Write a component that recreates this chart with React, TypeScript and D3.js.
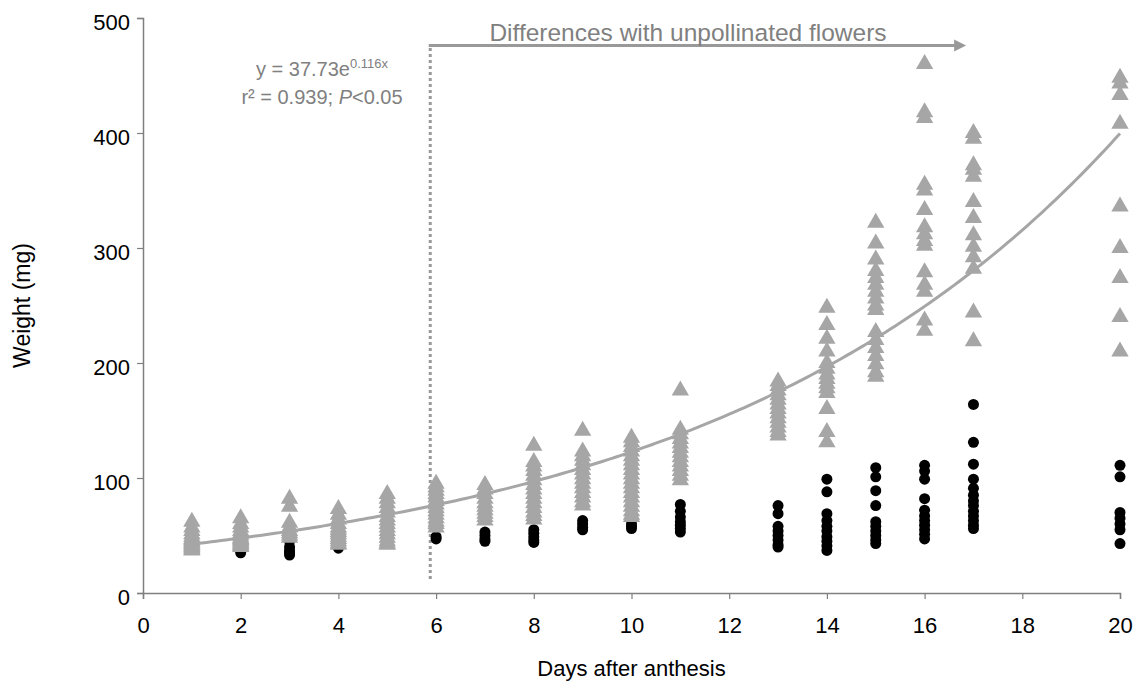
import React, { useEffect, useRef } from 'react';
import * as d3 from 'd3';

// days after anthesis that were sampled
const days = [1, 2, 3, 4, 5, 6, 7, 8, 9, 10, 11, 13, 14, 15, 16, 17, 20];

// pollinated flowers (grey triangles), mg
const pollinatedWeights = [
  [62, 57, 54, 51, 49, 47, 46, 45, 44, 43, 42, 41, 40, 39, 38, 37],
  [65, 60, 57, 54, 52, 50, 48, 47, 46, 45, 44, 43, 42, 41, 40],
  [82, 75, 61, 57, 54, 52, 50, 48],
  [73, 68, 64, 60, 57, 55, 53, 51, 49, 47, 45, 43, 42],
  [86, 82, 78, 74, 70, 66, 63, 60, 57, 54, 51, 48, 45, 43, 42],
  [95, 92, 89, 86, 83, 80, 77, 74, 71, 68, 65, 62, 60, 57],
  [94, 90, 86, 82, 78, 75, 72, 69, 66, 63],
  [128, 114, 110, 106, 102, 98, 94, 90, 86, 82, 78, 74, 70, 67, 64],
  [141, 123, 119, 115, 111, 107, 103, 99, 95, 91, 87, 83, 79, 76],
  [135, 131, 127, 123, 119, 115, 111, 107, 103, 99, 95, 91, 87, 83, 79, 75, 71, 68, 66],
  [176, 142, 138, 134, 130, 126, 122, 118, 114, 110, 106, 102, 98],
  [184, 180, 176, 172, 168, 164, 160, 156, 152, 148, 144, 140, 137],
  [248, 233, 221, 210, 200, 195, 190, 186, 182, 178, 174, 160, 140, 131],
  [322, 304, 290, 280, 274, 268, 262, 256, 250, 246, 227, 220, 213, 206, 199, 192, 188],
  [460, 418, 413, 355, 350, 333, 318, 312, 306, 302, 279, 268, 262, 237, 228],
  [400, 395, 372, 368, 362, 340, 326, 311, 301, 292, 282, 244, 219],
  [448, 443, 433, 408, 336, 300, 274, 240, 210],
];

// unpollinated flowers (black circles), mg
const unpollinatedWeights = [
  [42, 40, 39, 38],
  [44, 40, 37, 35],
  [45, 40, 37, 35, 33],
  [44, 41, 39],
  [48, 46, 45],
  [49, 47],
  [53, 50, 47, 45],
  [55, 52, 49, 46, 44],
  [63, 60, 57, 55],
  [60, 58, 56],
  [77, 71, 66, 62, 59, 56, 53],
  [76, 69, 58, 54, 50, 46, 42, 40],
  [99, 88, 69, 63, 58, 54, 49, 45, 41, 37],
  [109, 101, 89, 76, 62, 58, 54, 50, 46, 43],
  [111, 106, 99, 82, 72, 67, 63, 59, 55, 51, 47],
  [164, 131, 112, 99, 91, 85, 80, 76, 71, 67, 63, 59, 56],
  [111, 101, 70, 65, 60, 55, 43],
];

const xTicks = [0, 2, 4, 6, 8, 10, 12, 14, 16, 18, 20];
const yTicks = [0, 100, 200, 300, 400, 500];

// exponential trend line y = a * e^(b x)
const fitA = 37.73;
const fitB = 0.118;

const FONT = "'Liberation Sans', Arial, sans-serif";
const GREY = '#a6a6a6';

export default function App() {
  const ref = useRef<SVGSVGElement>(null);

  useEffect(() => {
    const svg = d3.select(ref.current);
    svg.selectAll('*').remove();

    const x = d3.scaleLinear().domain([0, 20]).range([143, 1120]);
    const y = d3.scaleLinear().domain([0, 500]).range([593, 18]);

    // axes
    const yAxis = svg.append('g')
      .attr('transform', `translate(${x(0)},0)`)
      .call(d3.axisLeft(y).tickValues(yTicks).tickSize(6).tickPadding(7));
    const xAxis = svg.append('g')
      .attr('transform', `translate(0,${y(0)})`)
      .call(d3.axisBottom(x).tickValues(xTicks).tickSize(6).tickPadding(18));
    [yAxis, xAxis].forEach(a => {
      a.select('.domain').attr('stroke', '#7f7f7f').attr('stroke-width', 1.5);
      a.selectAll('.tick line').attr('stroke', '#7f7f7f').attr('stroke-width', 1.2);
      a.selectAll('.tick text')
        .style('font-family', FONT)
        .style('font-size', '22px')
        .attr('fill', '#000');
    });
    yAxis.selectAll('.tick text').attr('dy', '0.5em');

    // axis titles
    svg.append('text')
      .attr('x', (x(0) + x(20)) / 2)
      .attr('y', 676)
      .attr('text-anchor', 'middle')
      .style('font-family', FONT)
      .style('font-size', '22px')
      .text('Days after anthesis');
    svg.append('text')
      .attr('transform', `translate(30,${(y(0) + y(500)) / 2}) rotate(-90)`)
      .attr('text-anchor', 'middle')
      .style('font-family', FONT)
      .style('font-size', '23px')
      .text('Weight (mg)');

    // annotations: dotted line at day 6 and arrow
    const markDay = 5.88;
    svg.append('line')
      .attr('x1', x(markDay)).attr('x2', x(markDay))
      .attr('y1', y(474)).attr('y2', y(10))
      .attr('stroke', '#999')
      .attr('stroke-width', 3)
      .attr('stroke-dasharray', '3,3');
    const arrowY = y(476);
    const arrowEnd = x(16.85);
    svg.append('line')
      .attr('x1', x(markDay) - 1.5).attr('x2', arrowEnd - 8)
      .attr('y1', arrowY).attr('y2', arrowY)
      .attr('stroke', '#999')
      .attr('stroke-width', 3);
    svg.append('path')
      .attr('d', `M${arrowEnd},${arrowY} L${arrowEnd - 12},${arrowY - 6} L${arrowEnd - 12},${arrowY + 6} Z`)
      .attr('fill', '#999');
    svg.append('text')
      .attr('x', 688)
      .attr('y', arrowY - 5)
      .attr('text-anchor', 'middle')
      .attr('fill', '#808080')
      .style('font-family', FONT)
      .style('font-size', '24.5px')
      .text('Differences with unpollinated flowers');

    // equation
    const eq = svg.append('text')
      .attr('x', 322)
      .attr('y', 76)
      .attr('text-anchor', 'middle')
      .attr('fill', '#808080')
      .style('font-family', FONT)
      .style('font-size', '20px');
    eq.append('tspan').text('y = 37.73e');
    eq.append('tspan').attr('dy', -8).style('font-size', '13px').text('0.116x');
    const r2 = svg.append('text')
      .attr('x', 322)
      .attr('y', 104)
      .attr('text-anchor', 'middle')
      .attr('fill', '#808080')
      .style('font-family', FONT)
      .style('font-size', '20px');
    r2.append('tspan').text('r² = 0.939; ');
    r2.append('tspan').style('font-style', 'italic').text('P');
    r2.append('tspan').text('<0.05');

    // points
    const circles = days.flatMap((d, i) => unpollinatedWeights[i].map(w => ({ d, w })));
    const triangles = days.flatMap((d, i) => pollinatedWeights[i].map(w => ({ d, w })));

    svg.append('g').selectAll('circle')
      .data(circles)
      .enter().append('circle')
      .attr('cx', p => x(p.d))
      .attr('cy', p => y(p.w))
      .attr('r', 5.5)
      .attr('fill', '#000');

    const tri = d3.symbol().type(d3.symbolTriangle).size(130);
    svg.append('g').selectAll('path')
      .data(triangles)
      .enter().append('path')
      .attr('d', tri)
      .attr('transform', p => `translate(${x(p.d)},${y(p.w)})`)
      .attr('fill', GREY);

    // trend line
    const curve = d3.range(1, 20.01, 0.1).map(t => [t, fitA * Math.exp(fitB * t)]);
    svg.append('path')
      .datum(curve)
      .attr('d', d3.line<number[]>().x(p => x(p[0])).y(p => y(p[1])))
      .attr('fill', 'none')
      .attr('stroke', GREY)
      .attr('stroke-width', 3);
  }, []);

  return (
    <svg
      ref={ref}
      width={1146}
      height={692}
      style={{ position: 'absolute', left: 0, top: 0, background: '#fff' }}
    />
  );
}
